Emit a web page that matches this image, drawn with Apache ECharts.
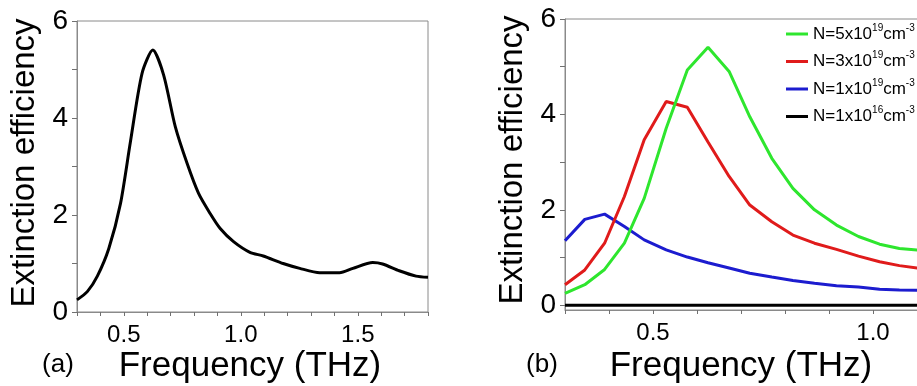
<!DOCTYPE html>
<html>
<head>
<meta charset="utf-8">
<script src="https://cdn.jsdelivr.net/npm/echarts@6/dist/echarts.min.js"></script>
<style>
html,body{margin:0;padding:0;background:#fff;}
#c{width:917px;height:386px;}
</style>
</head>
<body>
<div id="c"></div>
<script>
// ---- Panel (a) data ----
const freqA = [0.30, 0.344, 0.387, 0.436, 0.486, 0.528, 0.578, 0.624, 0.670, 0.720, 0.770, 0.819, 0.869, 0.912, 0.969, 1.039, 1.096, 1.181, 1.252, 1.337, 1.422, 1.479, 1.564, 1.606, 1.677, 1.749, 1.80];
const effA  = [0.25, 0.42, 0.74, 1.31, 2.24, 3.50, 4.92, 5.40, 4.89, 3.82, 3.07, 2.45, 2.03, 1.72, 1.45, 1.23, 1.155, 1.00, 0.90, 0.81, 0.81, 0.90, 1.02, 0.99, 0.85, 0.74, 0.715];

// ---- Panel (b) data ----
const freqB   = [0.30, 0.345, 0.39, 0.435, 0.48, 0.53, 0.578, 0.625, 0.673, 0.72, 0.77, 0.818, 0.867, 0.917, 0.967, 1.015, 1.06, 1.11, 1.16, 1.21];
const effN5e19 = [0.25, 0.43, 0.75, 1.30, 2.24, 3.71, 4.93, 5.41, 4.90, 3.95, 3.08, 2.45, 2.00, 1.68, 1.44, 1.28, 1.19, 1.15, 1.07, 0.98];
const effN3e19 = [0.43, 0.74, 1.30, 2.28, 3.47, 4.27, 4.15, 3.42, 2.70, 2.10, 1.75, 1.47, 1.30, 1.17, 1.03, 0.91, 0.83, 0.77, 0.71, 0.66];
const effN1e19 = [1.35, 1.80, 1.91, 1.65, 1.37, 1.16, 1.01, 0.89, 0.78, 0.67, 0.59, 0.52, 0.46, 0.41, 0.38, 0.335, 0.32, 0.31, 0.30, 0.29];
const effN1e16 = [0, 0, 0, 0, 0, 0, 0, 0, 0, 0, 0, 0, 0, 0, 0, 0, 0, 0, 0, 0];

// ---- Legend / tick labels ----
const seriesNames = ['N=5x10^19cm^-3', 'N=3x10^19cm^-3', 'N=1x10^19cm^-3', 'N=1x10^16cm^-3'];
const seriesColors = ['#2ee62e', '#e01b1b', '#1c1ccf', '#000000'];
const xTickStep = 0.1;
const yTickStep = 1;
const xLabelsA = [0.5, 1.0, 1.5];
const xLabelsB = [0.5, 1.0];
const yTicks   = [0, 1, 2, 3, 4, 5, 6];
const yLabels  = [0, 2, 4, 6];
const xTitle = 'Frequency (THz)';
const yTitle = 'Extinction efficiency';
const panelTags = ['(a)', '(b)'];

const FONT = '"Liberation Sans", Arial, sans-serif';
const AXIS_GRAY = '#8a8a8a';
const TICK_GRAY = '#707070';

function pairs(xs, ys) { return xs.map((x, i) => [x, ys[i]]); }

function xAxisCfg(gi, min, max, labels) {
  return {
    type: 'value', gridIndex: gi, min: min, max: max, interval: xTickStep,
    axisLine: { show: true, onZero: false, lineStyle: { color: AXIS_GRAY, width: 1 } },
    axisTick: { show: true, length: 4, lineStyle: { color: TICK_GRAY, width: 1 } },
    axisLabel: { show: true, customValues: labels, margin: 11, color: '#000', fontFamily: FONT, fontSize: 24,
                 formatter: v => Number(v).toFixed(1) },
    splitLine: { show: false }
  };
}
function yAxisCfg(gi, min) {
  const cfg = {
    type: 'value', gridIndex: gi, min: min, max: 6,
    axisLine: { show: true, onZero: false, lineStyle: { color: AXIS_GRAY, width: 1 } },
    axisTick: { show: true, length: 5, lineStyle: { color: TICK_GRAY, width: 1 } },
    axisLabel: { show: true, customValues: yLabels, margin: 9, color: '#000', fontFamily: FONT, fontSize: 28,
                 formatter: v => String(Math.round(v)) },
    splitLine: { show: false }
  };
  if (min === 0) { cfg.interval = yTickStep; }
  else { cfg.splitNumber = 6; cfg.minInterval = yTickStep; cfg.maxInterval = yTickStep; cfg.axisTick.customValues = yTicks; }
  return cfg;
}

const seriesB = [effN5e19, effN3e19, effN1e19, effN1e16].map((arr, i) => ({
  name: seriesNames[i], type: 'line', xAxisIndex: 1, yAxisIndex: 1,
  data: pairs(freqB, arr), showSymbol: false, smooth: false, z: 10 - i,
  lineStyle: { color: seriesColors[i], width: 3 }, itemStyle: { color: seriesColors[i] }
}));

const chart = echarts.init(document.getElementById('c'), null, { renderer: 'canvas' });
chart.setOption({
  animation: false,
  backgroundColor: '#fff',
  grid: [
    { left: 77, top: 21, width: 351, height: 291, show: true, borderColor: AXIS_GRAY, borderWidth: 1,
      backgroundColor: 'transparent', containLabel: false, outerBoundsMode: 'none' },
    { left: 565, top: 19, width: 396, height: 291, show: true, borderColor: AXIS_GRAY, borderWidth: 1,
      backgroundColor: 'transparent', containLabel: false, outerBoundsMode: 'none' }
  ],
  xAxis: [ xAxisCfg(0, 0.3, 1.8, xLabelsA), xAxisCfg(1, 0.3, 1.2, xLabelsB) ],
  yAxis: [ yAxisCfg(0, 0), yAxisCfg(1, -0.1) ],
  legend: {
    data: seriesNames, orient: 'vertical', left: 781, top: 18, itemGap: 8,
    itemWidth: 22, itemHeight: 3, icon: 'rect', selectedMode: false,
    formatter: name => {
      const m = name.match(/^(N=\dx10)\^(\d+)cm\^(-3)$/);
      return '{n|' + m[1] + '}{s|' + m[2] + '}{n|cm}{s|' + m[3] + '}';
    },
    textStyle: {
      color: '#000', fontFamily: FONT,
      rich: {
        n: { fontSize: 17, lineHeight: 22, fontFamily: FONT, color: '#000' },
        s: { fontSize: 10, lineHeight: 4, verticalAlign: 'top', fontFamily: FONT, color: '#000' }
      }
    }
  },
  series: [
    { name: 'panelA', type: 'line', xAxisIndex: 0, yAxisIndex: 0, data: pairs(freqA, effA),
      showSymbol: false, smooth: 0.25, lineStyle: { color: '#000', width: 3 } }
  ].concat(seriesB),
  graphic: [
    { type: 'text', x: 250, y: 366, style: { text: xTitle, font: '35px ' + FONT, fill: '#000', align: 'center', verticalAlign: 'middle' } },
    { type: 'text', x: 741, y: 366, style: { text: xTitle, font: '35px ' + FONT, fill: '#000', align: 'center', verticalAlign: 'middle' } },
    { type: 'text', x: 25, y: 163, rotation: Math.PI / 2, style: { text: yTitle, font: '33px ' + FONT, fill: '#000', align: 'center', verticalAlign: 'middle' } },
    { type: 'text', x: 513, y: 160, rotation: Math.PI / 2, style: { text: yTitle, font: '33px ' + FONT, fill: '#000', align: 'center', verticalAlign: 'middle' } },
    { type: 'text', x: 58, y: 365, style: { text: panelTags[0], font: '26px ' + FONT, fill: '#000', align: 'center', verticalAlign: 'middle' } },
    { type: 'text', x: 542, y: 365, style: { text: panelTags[1], font: '26px ' + FONT, fill: '#000', align: 'center', verticalAlign: 'middle' } }
  ]
});
</script>
</body>
</html>
